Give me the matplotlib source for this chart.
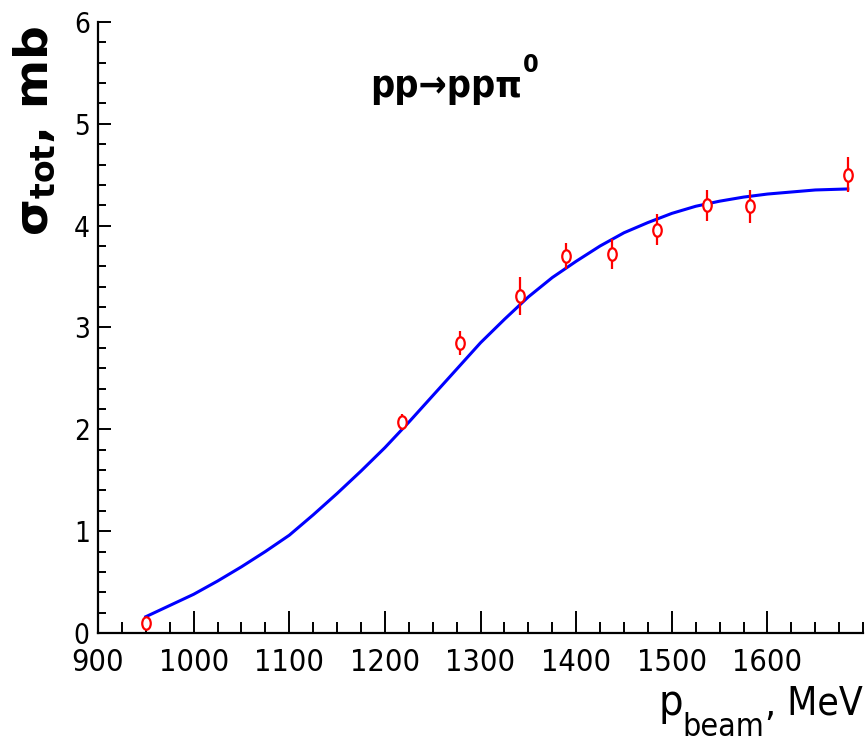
import matplotlib
matplotlib.use('Agg')
import matplotlib.pyplot as plt
from matplotlib import font_manager
from matplotlib.path import Path
from matplotlib.transforms import Affine2D
from matplotlib.ticker import MultipleLocator, FixedLocator

# measured points
p_beam = [950, 1218, 1279, 1341, 1389, 1437, 1485, 1537, 1582, 1684]
sigma = [0.10, 2.07, 2.85, 3.31, 3.70, 3.72, 3.96, 4.20, 4.19, 4.50]
sigma_err = [0.05, 0.08, 0.12, 0.19, 0.13, 0.15, 0.15, 0.15, 0.16, 0.17]

# fit curve
fit_p = [950, 975, 1000, 1025, 1050, 1075, 1100, 1125, 1150, 1175, 1200, 1225,
         1250, 1275, 1300, 1325, 1350, 1375, 1400, 1425, 1450, 1475, 1500,
         1525, 1550, 1575, 1600, 1625, 1650, 1684]
fit_sigma = [0.16, 0.27, 0.38, 0.51, 0.65, 0.80, 0.96, 1.16, 1.37, 1.59, 1.82, 2.07,
             2.33, 2.59, 2.85, 3.08, 3.30, 3.49, 3.65, 3.80, 3.93, 4.03, 4.12,
             4.19, 4.24, 4.28, 4.31, 4.33, 4.35, 4.36]

xticks = [900, 1000, 1100, 1200, 1300, 1400, 1500, 1600]

# look for a condensed sans face, like the narrow Helvetica of the original
reg = bold = None
for f in font_manager.fontManager.ttflist:
    fn = f.fname.lower()
    if ('narrow' in fn or 'condensed' in fn) and 'mono' not in fn and 'serif' not in fn:
        if ('bold' in fn) and 'oblique' not in fn and 'italic' not in fn:
            bold = bold or f.fname
        elif 'oblique' not in fn and 'italic' not in fn and 'light' not in fn:
            reg = reg or f.fname
if reg:
    fp_reg = lambda s: font_manager.FontProperties(fname=reg, size=s)
else:
    fp_reg = lambda s: font_manager.FontProperties(family='Liberation Sans', size=s)
if bold:
    fp_bold = lambda s: font_manager.FontProperties(fname=bold, size=s)
else:
    fp_bold = lambda s: font_manager.FontProperties(family='Liberation Sans', weight='bold', size=s)

plt.rcParams['mathtext.fontset'] = 'dejavusans'

fig = plt.figure(figsize=(8.65, 7.56), dpi=100)
ax = fig.add_axes([0.1133, 0.1627, 0.8845, 0.8083])

# the original markers are a bit taller than wide
ell = Path.unit_circle().transformed(Affine2D().scale(0.68, 1.0))

ax.plot(fit_p, fit_sigma, color='#0000ff', lw=2.2, zorder=2)
ax.errorbar(p_beam, sigma, yerr=sigma_err, fmt='none', ecolor='red',
            elinewidth=1.6, capsize=0, zorder=3)
ax.plot(p_beam, sigma, ls='none', marker=ell, ms=9, mfc='white', mec='red',
        mew=1.6, zorder=4)

ax.set_xlim(900, 1700)
ax.set_ylim(0, 6)
ax.xaxis.set_major_locator(FixedLocator(xticks))
ax.xaxis.set_minor_locator(MultipleLocator(25))
ax.yaxis.set_major_locator(MultipleLocator(1))
ax.yaxis.set_minor_locator(MultipleLocator(0.2))

for s in ['top', 'right']:
    ax.spines[s].set_visible(False)
for s in ['left', 'bottom']:
    ax.spines[s].set_linewidth(1.6)

ax.tick_params(axis='x', which='major', direction='in', length=16, width=1.4, pad=11)
ax.tick_params(axis='x', which='minor', direction='in', length=8, width=1.4)
ax.tick_params(axis='y', which='major', direction='in', length=9, width=1.4, pad=6)
ax.tick_params(axis='y', which='minor', direction='in', length=5.5, width=1.4)
for lab in ax.get_xticklabels():
    lab.set_fontproperties(fp_reg(22))
for lab in ax.get_yticklabels():
    lab.set_fontproperties(fp_reg(20))

# x title: p_beam, MeV  (right aligned under the axis end)
fig.canvas.draw()
W, H = fig.bbox.width, fig.bbox.height
xl = fig.text(0.997, 0.054, ', MeV', ha='right', va='baseline', fontproperties=fp_reg(28))
fig.canvas.draw()
xs = fig.text(xl.get_window_extent().x0 / W, 0.026, 'beam', ha='right', va='baseline',
              fontproperties=fp_reg(23))
fig.canvas.draw()
fig.text(xs.get_window_extent().x0 / W, 0.054, 'p', ha='right', va='baseline',
         fontproperties=fp_reg(31))

# y title
fig.text(0.040, 0.966, r'σ$_{\mathbf{tot}}$, mb', ha='center', va='top', rotation=90,
         fontsize=34, fontweight='bold', family='DejaVu Sans')

# reaction label
t = fig.text(0.428, 0.872, 'pp→ppπ', ha='left', va='baseline', fontproperties=fp_bold(27))
fig.canvas.draw()
tb = t.get_window_extent()
fig.text(tb.x1 / W + 0.001, 0.872 + 25 / H, '0', ha='left', va='baseline',
         fontproperties=fp_bold(18))

fig.savefig('out.png', dpi=100)
